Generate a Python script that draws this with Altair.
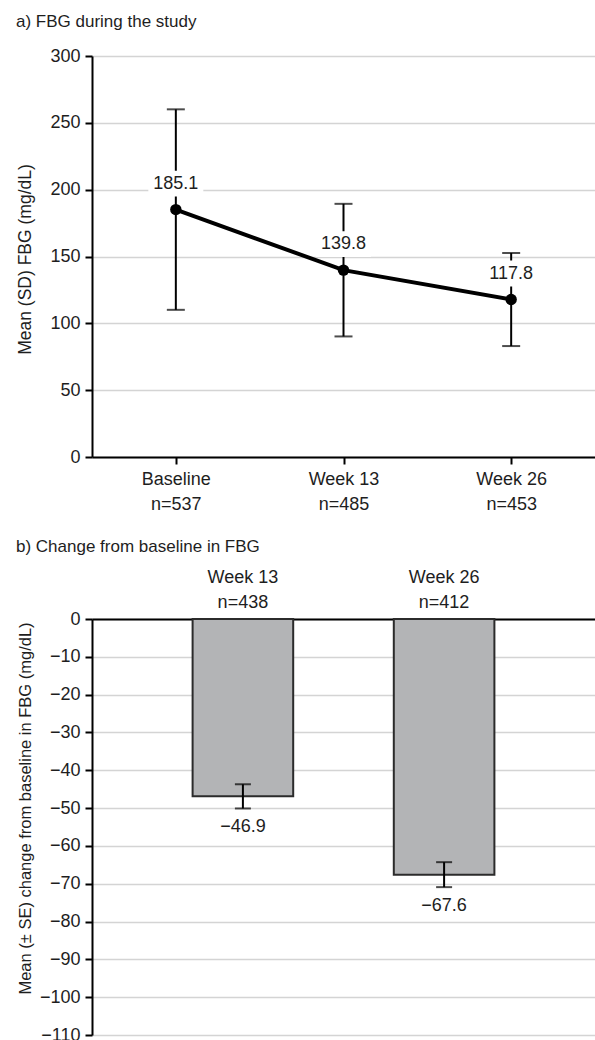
import altair as alt
import pandas as pd

# ---- Panel a: FBG during the study ----
visits = ["Baseline", "Week 13", "Week 26"]
visit_n = [537, 485, 453]
fbg_mean = [185.1, 139.8, 117.8]
fbg_sd = [75.0, 49.6, 34.8]
ticks_a = [0, 50, 100, 150, 200, 250, 300]

# ---- Panel b: change from baseline ----
weeks = ["Week 13", "Week 26"]
week_n = [438, 412]
chg_mean = [-46.9, -67.6]
chg_se = [3.2, 3.3]
ticks_b = [0, -10, -20, -30, -40, -50, -60, -70, -80, -90, -100, -110]

FONT = "Liberation Sans, Arial, sans-serif"
TXT = "#1e1e1e"
GRID = "#d4d4d4"
FS = 18

cats_a = [f"{v}|n={n}" for v, n in zip(visits, visit_n)]
dfa = pd.DataFrame({
    "cat": cats_a,
    "mean": fbg_mean,
    "lo": [m - s for m, s in zip(fbg_mean, fbg_sd)],
    "hi": [m + s for m, s in zip(fbg_mean, fbg_sd)],
    "label": [f"{m:.1f}" for m in fbg_mean],
})

cats_b = [f"{w}|n={n}" for w, n in zip(weeks, week_n)]
dfb = pd.DataFrame({
    "cat": cats_b,
    "mean": chg_mean,
    "lo": [m - s for m, s in zip(chg_mean, chg_se)],
    "hi": [m + s for m, s in zip(chg_mean, chg_se)],
    "label": [f"{m:.1f}".replace("-", "\u2212") for m in chg_mean],
})

W = 503
HA = 401
HB = 416

# ---------------- Panel a ----------------
xa_axis = alt.Axis(orient="bottom", labelExpr="split(datum.label, '|')", labelAngle=0,
                   labelFont=FONT, labelFontSize=FS, labelColor=TXT, labelLineHeight=25,
                   labelPadding=6, domainColor="black", domainWidth=2, tickColor="black",
                   tickWidth=2, tickSize=7, grid=False, title=None)
ya_axis = alt.Axis(values=ticks_a, title="Mean (SD) FBG (mg/dL)", titleFont=FONT,
                   titleFontSize=17.5, titleFontWeight="normal", titleColor=TXT,
                   titleX=-67, titleY=203, titleBaseline="middle",
                   labelFont=FONT, labelFontSize=FS, labelColor=TXT, labelPadding=5,
                   domainColor="black", domainWidth=2, tickColor="black", tickWidth=2,
                   tickSize=7, grid=True, gridColor=GRID, gridWidth=1.5)


def xa():
    return alt.X("cat:N", sort=cats_a, scale=alt.Scale(type="point", padding=0.5), axis=xa_axis)


def ya(field):
    return alt.Y(f"{field}:Q", scale=alt.Scale(domain=[0, 300], nice=False, zero=True), axis=ya_axis)


ch_a = alt.Chart(dfa)
err_a = ch_a.mark_rule(color="black", strokeWidth=2).encode(x=xa(), y=ya("lo"), y2="hi:Q")
cap_lo_a = ch_a.mark_tick(color="black", thickness=2, size=18).encode(x=xa(), y=ya("lo"))
cap_hi_a = ch_a.mark_tick(color="black", thickness=2, size=18).encode(x=xa(), y=ya("hi"))
line_a = ch_a.mark_line(color="black", strokeWidth=4).encode(x=xa(), y=ya("mean"))
pts_a = ch_a.mark_point(filled=True, color="black", size=130, opacity=1).encode(x=xa(), y=ya("mean"))
box_a = ch_a.mark_point(shape="M-1,-0.47L1,-0.47L1,0.47L-1,0.47Z", filled=True,
                        fill="white", opacity=1, strokeWidth=0, size=3025).encode(
    x=xa(), y=ya("mean"), yOffset=alt.value(-26))
txt_a = ch_a.mark_text(font=FONT, fontSize=FS, color=TXT, dy=-26, baseline="middle").encode(
    x=xa(), y=ya("mean"), text="label:N")

panel_a = alt.layer(err_a, cap_lo_a, cap_hi_a, line_a, pts_a, box_a, txt_a).properties(
    width=W, height=HA,
    title=alt.TitleParams("a) FBG during the study", anchor="start", frame="group", dx=-76,
                          font=FONT, fontSize=17, fontWeight="normal", color=TXT, offset=16),
)

# ---------------- Panel b ----------------
xb_axis = alt.Axis(orient="top", labelExpr="split(datum.label, '|')", labelAngle=0,
                   labelFont=FONT, labelFontSize=FS, labelColor=TXT, labelLineHeight=25,
                   labelPadding=33, domainColor="black", domainWidth=2, ticks=False,
                   grid=False, title=None)
yb_axis = alt.Axis(values=ticks_b, title="Mean (\u00b1 SE) change from baseline in FBG (mg/dL)",
                   titleFont=FONT, titleFontSize=16.5, titleFontWeight="normal", titleColor=TXT,
                   titleX=-67, titleY=189, titleBaseline="middle",
                   labelFont=FONT, labelFontSize=FS, labelColor=TXT, labelPadding=5,
                   domainColor="black", domainWidth=2, tickColor="black", tickWidth=2,
                   tickSize=7, grid=True, gridColor=GRID, gridWidth=1.5)


def xb():
    return alt.X("cat:N", sort=cats_b, scale=alt.Scale(type="band", paddingInner=0.5, paddingOuter=0.5),
                 axis=xb_axis)


def yb(field):
    return alt.Y(f"{field}:Q", scale=alt.Scale(domain=[-110, 0], nice=False), axis=yb_axis)


ch_b = alt.Chart(dfb)
bars_b = ch_b.mark_bar(fill="#b3b4b6", stroke="#2b2b2b", strokeWidth=2).encode(x=xb(), y=yb("mean"))
err_b = ch_b.mark_rule(color="black", strokeWidth=2).encode(x=xb(), y=yb("lo"), y2="hi:Q")
cap_lo_b = ch_b.mark_tick(color="black", thickness=2, size=16).encode(x=xb(), y=yb("lo"))
cap_hi_b = ch_b.mark_tick(color="black", thickness=2, size=16).encode(x=xb(), y=yb("hi"))
txt_b = ch_b.mark_text(font=FONT, fontSize=FS, color=TXT, dy=19, baseline="middle").encode(
    x=xb(), y=yb("lo"), text="label:N")

panel_b = alt.layer(bars_b, err_b, cap_lo_b, cap_hi_b, txt_b).properties(
    width=W, height=HB,
    title=alt.TitleParams("b) Change from baseline in FBG", anchor="start", frame="group", dx=-76,
                          font=FONT, fontSize=17, fontWeight="normal", color=TXT, offset=12),
)

chart = alt.vconcat(panel_a, panel_b, spacing=25).properties(
    padding={"left": 16, "top": 13, "right": 0, "bottom": 0},
    background="white",
).configure_view(strokeWidth=0)

chart.save("out.html", embed_options={"renderer": "svg", "actions": False})
